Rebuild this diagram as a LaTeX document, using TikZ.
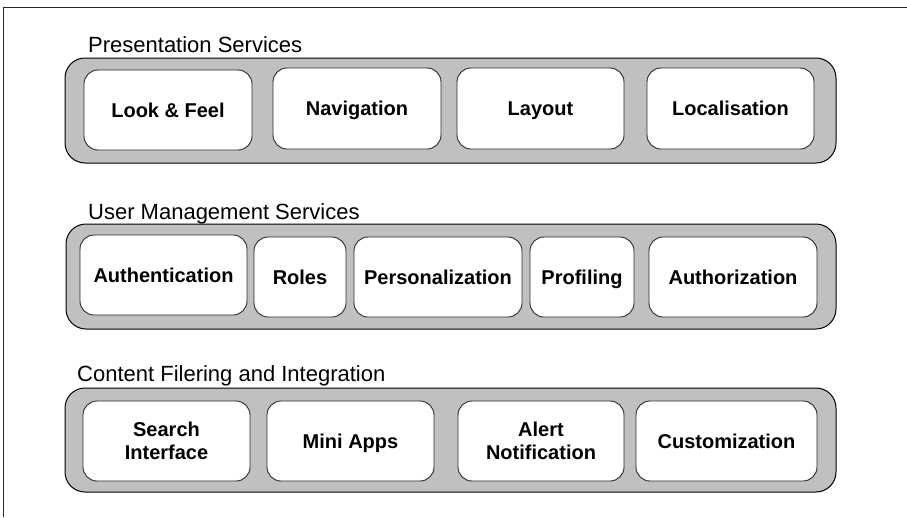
\documentclass[tikz,border=0pt]{standalone}
\usepackage{fontspec}
\setmainfont{Liberation Sans}
\definecolor{groupgray}{RGB}{192,192,192}
\definecolor{boxline}{RGB}{40,40,40}
\begin{document}
\begin{tikzpicture}[x=1pt,y=-1pt,
  groupbox/.style={draw=black, fill=groupgray, line width=1pt, rounded corners=20pt, inner sep=0pt},
  itembox/.style={draw=boxline, fill=white, line width=0.9pt, rounded corners=14pt, inner sep=0pt,
    font=\bfseries\fontsize{20}{23}\selectfont, text height=14.3pt, text depth=0pt, minimum height=80pt},
  itembox2/.style={draw=boxline, fill=white, line width=0.9pt, rounded corners=14pt, inner sep=0pt,
    font=\bfseries\fontsize{20}{23}\selectfont, align=center, minimum height=80pt},
  heading/.style={anchor=base west, inner sep=0pt, font=\fontsize{22}{26}\selectfont}]
\useasboundingbox (0,0) rectangle (907,517);
\coordinate (fbl) at (3.5,517);
\coordinate (ftr) at (907,7.5);
\draw[line width=1pt, draw=black!85] (fbl) |- (ftr);

% Row 1
\node[heading] (h1) at (88,52) {Presentation Services};
\node[groupbox, minimum width=771pt, minimum height=105pt] (g1) at (450.5,110.5) {};
\node[itembox, minimum width=168pt] (lf) at (168,110) {Look \& Feel};
\node[itembox, minimum width=168pt, minimum height=81pt] (nav) at (357,108.5) {Navigation};
\node[itembox, minimum width=167pt, minimum height=81pt] (lay) at (540.5,108.5) {Layout};
\node[itembox, minimum width=167pt, minimum height=81pt] (loc) at (730.5,108.5) {Localisation};

% Row 2
\node[heading] (h2) at (88,219) {User Management Services};
\node[groupbox, minimum width=770pt, minimum height=105pt] (g2) at (451,276.5) {};
\node[itembox, minimum width=167pt] (auth) at (163.5,275) {Authentication};
\node[itembox, minimum width=92pt] (roles) at (300,277) {Roles};
\node[itembox, minimum width=168pt] (pers) at (438,277) {Personalization};
\node[itembox, minimum width=104pt] (prof) at (582,277) {Profiling};
\node[itembox, minimum width=168pt] (authz) at (733,277) {Authorization};

% Row 3
\node[heading] (h3) at (77,381) {Content Filering and Integration};
\node[groupbox, minimum width=771pt, minimum height=104pt] (g3) at (450.5,440) {};
\node[itembox2, minimum width=167pt] (search) at (166.5,441) {Search\\Interface};
\node[itembox, minimum width=167pt] (mini) at (350.5,441) {Mini Apps};
\node[itembox2, minimum width=166pt] (alert) at (541,441) {Alert\\Notification};
\node[itembox, minimum width=181pt] (cust) at (726.5,441) {Customization};
\end{tikzpicture}
\end{document}
